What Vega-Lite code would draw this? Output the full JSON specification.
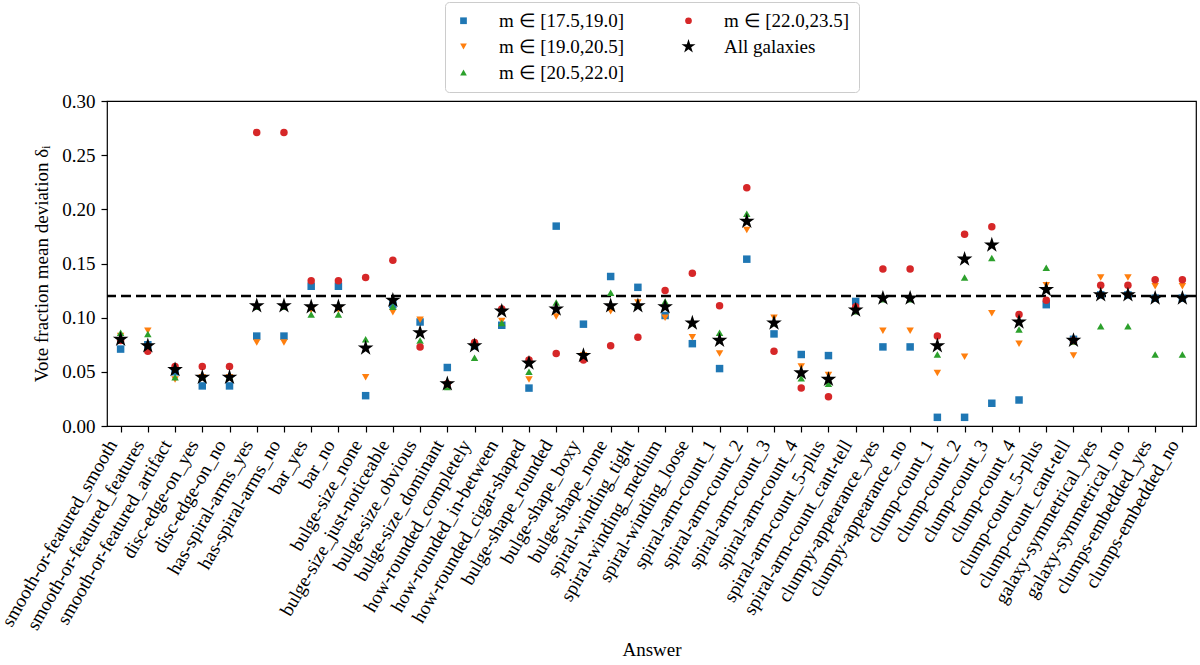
{
"$schema": "https://vega.github.io/schema/vega-lite/v6.json",
"width": 1089,
"height": 325,
"autosize": {"type": "none"},
"padding": {"left": 107, "top": 101, "right": 4, "bottom": 239},
"background": "white",
"config": {
  "font": "Liberation Serif",
  "view": {"stroke": "black", "strokeWidth": 1.2},
  "axis": {"labelFont": "Liberation Serif", "titleFont": "Liberation Serif", "labelFontSize": 19, "titleFontSize": 19, "labelColor": "black", "titleColor": "black", "titleFontWeight": "normal", "domain": false, "tickColor": "black", "tickSize": 6, "tickWidth": 1.2, "grid": false}
},
"datasets": {
"pts": [
{"answer":"smooth-or-featured_smooth","group":"m ∈ [17.5,19.0]","value":0.071},
{"answer":"smooth-or-featured_features","group":"m ∈ [17.5,19.0]","value":0.075},
{"answer":"smooth-or-featured_artifact","group":"m ∈ [17.5,19.0]","value":0.050},
{"answer":"disc-edge-on_yes","group":"m ∈ [17.5,19.0]","value":0.037},
{"answer":"disc-edge-on_no","group":"m ∈ [17.5,19.0]","value":0.037},
{"answer":"has-spiral-arms_yes","group":"m ∈ [17.5,19.0]","value":0.083},
{"answer":"has-spiral-arms_no","group":"m ∈ [17.5,19.0]","value":0.083},
{"answer":"bar_yes","group":"m ∈ [17.5,19.0]","value":0.129},
{"answer":"bar_no","group":"m ∈ [17.5,19.0]","value":0.129},
{"answer":"bulge-size_none","group":"m ∈ [17.5,19.0]","value":0.028},
{"answer":"bulge-size_just-noticeable","group":"m ∈ [17.5,19.0]","value":0.112},
{"answer":"bulge-size_obvious","group":"m ∈ [17.5,19.0]","value":0.096},
{"answer":"bulge-size_dominant","group":"m ∈ [17.5,19.0]","value":0.054},
{"answer":"how-rounded_completely","group":"m ∈ [17.5,19.0]","value":0.074},
{"answer":"how-rounded_in-between","group":"m ∈ [17.5,19.0]","value":0.093},
{"answer":"how-rounded_cigar-shaped","group":"m ∈ [17.5,19.0]","value":0.035},
{"answer":"bulge-shape_rounded","group":"m ∈ [17.5,19.0]","value":0.1845},
{"answer":"bulge-shape_boxy","group":"m ∈ [17.5,19.0]","value":0.094},
{"answer":"bulge-shape_none","group":"m ∈ [17.5,19.0]","value":0.138},
{"answer":"spiral-winding_tight","group":"m ∈ [17.5,19.0]","value":0.128},
{"answer":"spiral-winding_medium","group":"m ∈ [17.5,19.0]","value":0.102},
{"answer":"spiral-winding_loose","group":"m ∈ [17.5,19.0]","value":0.076},
{"answer":"spiral-arm-count_1","group":"m ∈ [17.5,19.0]","value":0.053},
{"answer":"spiral-arm-count_2","group":"m ∈ [17.5,19.0]","value":0.154},
{"answer":"spiral-arm-count_3","group":"m ∈ [17.5,19.0]","value":0.085},
{"answer":"spiral-arm-count_4","group":"m ∈ [17.5,19.0]","value":0.066},
{"answer":"spiral-arm-count_5-plus","group":"m ∈ [17.5,19.0]","value":0.065},
{"answer":"spiral-arm-count_cant-tell","group":"m ∈ [17.5,19.0]","value":0.115},
{"answer":"clumpy-appearance_yes","group":"m ∈ [17.5,19.0]","value":0.073},
{"answer":"clumpy-appearance_no","group":"m ∈ [17.5,19.0]","value":0.073},
{"answer":"clump-count_1","group":"m ∈ [17.5,19.0]","value":0.008},
{"answer":"clump-count_2","group":"m ∈ [17.5,19.0]","value":0.008},
{"answer":"clump-count_3","group":"m ∈ [17.5,19.0]","value":0.021},
{"answer":"clump-count_4","group":"m ∈ [17.5,19.0]","value":0.024},
{"answer":"clump-count_5-plus","group":"m ∈ [17.5,19.0]","value":0.112},
{"answer":"clump-count_cant-tell","group":"m ∈ [17.5,19.0]","value":0.080},
{"answer":"galaxy-symmetrical_yes","group":"m ∈ [17.5,19.0]","value":0.121},
{"answer":"galaxy-symmetrical_no","group":"m ∈ [17.5,19.0]","value":0.121},
{"answer":"clumps-embedded_yes","group":"m ∈ [17.5,19.0]","value":0.118},
{"answer":"clumps-embedded_no","group":"m ∈ [17.5,19.0]","value":0.118},

{"answer":"smooth-or-featured_smooth","group":"m ∈ [19.0,20.5]","value":0.083},
{"answer":"smooth-or-featured_features","group":"m ∈ [19.0,20.5]","value":0.088},
{"answer":"smooth-or-featured_artifact","group":"m ∈ [19.0,20.5]","value":0.043},
{"answer":"disc-edge-on_yes","group":"m ∈ [19.0,20.5]","value":0.045},
{"answer":"disc-edge-on_no","group":"m ∈ [19.0,20.5]","value":0.045},
{"answer":"has-spiral-arms_yes","group":"m ∈ [19.0,20.5]","value":0.077},
{"answer":"has-spiral-arms_no","group":"m ∈ [19.0,20.5]","value":0.077},
{"answer":"bar_yes","group":"m ∈ [19.0,20.5]","value":0.107},
{"answer":"bar_no","group":"m ∈ [19.0,20.5]","value":0.107},
{"answer":"bulge-size_none","group":"m ∈ [19.0,20.5]","value":0.045},
{"answer":"bulge-size_just-noticeable","group":"m ∈ [19.0,20.5]","value":0.105},
{"answer":"bulge-size_obvious","group":"m ∈ [19.0,20.5]","value":0.098},
{"answer":"bulge-size_dominant","group":"m ∈ [19.0,20.5]","value":0.038},
{"answer":"how-rounded_completely","group":"m ∈ [19.0,20.5]","value":0.074},
{"answer":"how-rounded_in-between","group":"m ∈ [19.0,20.5]","value":0.097},
{"answer":"how-rounded_cigar-shaped","group":"m ∈ [19.0,20.5]","value":0.043},
{"answer":"bulge-shape_rounded","group":"m ∈ [19.0,20.5]","value":0.101},
{"answer":"bulge-shape_boxy","group":"m ∈ [19.0,20.5]","value":0.065},
{"answer":"bulge-shape_none","group":"m ∈ [19.0,20.5]","value":0.106},
{"answer":"spiral-winding_tight","group":"m ∈ [19.0,20.5]","value":0.114},
{"answer":"spiral-winding_medium","group":"m ∈ [19.0,20.5]","value":0.100},
{"answer":"spiral-winding_loose","group":"m ∈ [19.0,20.5]","value":0.082},
{"answer":"spiral-arm-count_1","group":"m ∈ [19.0,20.5]","value":0.067},
{"answer":"spiral-arm-count_2","group":"m ∈ [19.0,20.5]","value":0.181},
{"answer":"spiral-arm-count_3","group":"m ∈ [19.0,20.5]","value":0.100},
{"answer":"spiral-arm-count_4","group":"m ∈ [19.0,20.5]","value":0.055},
{"answer":"spiral-arm-count_5-plus","group":"m ∈ [19.0,20.5]","value":0.047},
{"answer":"spiral-arm-count_cant-tell","group":"m ∈ [19.0,20.5]","value":0.106},
{"answer":"clumpy-appearance_yes","group":"m ∈ [19.0,20.5]","value":0.088},
{"answer":"clumpy-appearance_no","group":"m ∈ [19.0,20.5]","value":0.088},
{"answer":"clump-count_1","group":"m ∈ [19.0,20.5]","value":0.049},
{"answer":"clump-count_2","group":"m ∈ [19.0,20.5]","value":0.064},
{"answer":"clump-count_3","group":"m ∈ [19.0,20.5]","value":0.104},
{"answer":"clump-count_4","group":"m ∈ [19.0,20.5]","value":0.076},
{"answer":"clump-count_5-plus","group":"m ∈ [19.0,20.5]","value":0.130},
{"answer":"clump-count_cant-tell","group":"m ∈ [19.0,20.5]","value":0.065},
{"answer":"galaxy-symmetrical_yes","group":"m ∈ [19.0,20.5]","value":0.137},
{"answer":"galaxy-symmetrical_no","group":"m ∈ [19.0,20.5]","value":0.137},
{"answer":"clumps-embedded_yes","group":"m ∈ [19.0,20.5]","value":0.129},
{"answer":"clumps-embedded_no","group":"m ∈ [19.0,20.5]","value":0.129},

{"answer":"smooth-or-featured_smooth","group":"m ∈ [20.5,22.0]","value":0.086},
{"answer":"smooth-or-featured_features","group":"m ∈ [20.5,22.0]","value":0.085},
{"answer":"smooth-or-featured_artifact","group":"m ∈ [20.5,22.0]","value":0.045},
{"answer":"disc-edge-on_yes","group":"m ∈ [20.5,22.0]","value":0.046},
{"answer":"disc-edge-on_no","group":"m ∈ [20.5,22.0]","value":0.046},
{"answer":"has-spiral-arms_yes","group":"m ∈ [20.5,22.0]","value":0.110},
{"answer":"has-spiral-arms_no","group":"m ∈ [20.5,22.0]","value":0.110},
{"answer":"bar_yes","group":"m ∈ [20.5,22.0]","value":0.103},
{"answer":"bar_no","group":"m ∈ [20.5,22.0]","value":0.103},
{"answer":"bulge-size_none","group":"m ∈ [20.5,22.0]","value":0.080},
{"answer":"bulge-size_just-noticeable","group":"m ∈ [20.5,22.0]","value":0.110},
{"answer":"bulge-size_obvious","group":"m ∈ [20.5,22.0]","value":0.079},
{"answer":"bulge-size_dominant","group":"m ∈ [20.5,22.0]","value":0.036},
{"answer":"how-rounded_completely","group":"m ∈ [20.5,22.0]","value":0.063},
{"answer":"how-rounded_in-between","group":"m ∈ [20.5,22.0]","value":0.095},
{"answer":"how-rounded_cigar-shaped","group":"m ∈ [20.5,22.0]","value":0.050},
{"answer":"bulge-shape_rounded","group":"m ∈ [20.5,22.0]","value":0.114},
{"answer":"bulge-shape_boxy","group":"m ∈ [20.5,22.0]","value":0.065},
{"answer":"bulge-shape_none","group":"m ∈ [20.5,22.0]","value":0.123},
{"answer":"spiral-winding_tight","group":"m ∈ [20.5,22.0]","value":0.112},
{"answer":"spiral-winding_medium","group":"m ∈ [20.5,22.0]","value":0.115},
{"answer":"spiral-winding_loose","group":"m ∈ [20.5,22.0]","value":0.095},
{"answer":"spiral-arm-count_1","group":"m ∈ [20.5,22.0]","value":0.086},
{"answer":"spiral-arm-count_2","group":"m ∈ [20.5,22.0]","value":0.196},
{"answer":"spiral-arm-count_3","group":"m ∈ [20.5,22.0]","value":0.095},
{"answer":"spiral-arm-count_4","group":"m ∈ [20.5,22.0]","value":0.044},
{"answer":"spiral-arm-count_5-plus","group":"m ∈ [20.5,22.0]","value":0.039},
{"answer":"spiral-arm-count_cant-tell","group":"m ∈ [20.5,22.0]","value":0.106},
{"answer":"clumpy-appearance_yes","group":"m ∈ [20.5,22.0]","value":0.117},
{"answer":"clumpy-appearance_no","group":"m ∈ [20.5,22.0]","value":0.117},
{"answer":"clump-count_1","group":"m ∈ [20.5,22.0]","value":0.066},
{"answer":"clump-count_2","group":"m ∈ [20.5,22.0]","value":0.137},
{"answer":"clump-count_3","group":"m ∈ [20.5,22.0]","value":0.155},
{"answer":"clump-count_4","group":"m ∈ [20.5,22.0]","value":0.089},
{"answer":"clump-count_5-plus","group":"m ∈ [20.5,22.0]","value":0.146},
{"answer":"clump-count_cant-tell","group":"m ∈ [20.5,22.0]","value":0.078},
{"answer":"galaxy-symmetrical_yes","group":"m ∈ [20.5,22.0]","value":0.092},
{"answer":"galaxy-symmetrical_no","group":"m ∈ [20.5,22.0]","value":0.092},
{"answer":"clumps-embedded_yes","group":"m ∈ [20.5,22.0]","value":0.066},
{"answer":"clumps-embedded_no","group":"m ∈ [20.5,22.0]","value":0.066},

{"answer":"smooth-or-featured_smooth","group":"m ∈ [22.0,23.5]","value":0.079},
{"answer":"smooth-or-featured_features","group":"m ∈ [22.0,23.5]","value":0.069},
{"answer":"smooth-or-featured_artifact","group":"m ∈ [22.0,23.5]","value":0.055},
{"answer":"disc-edge-on_yes","group":"m ∈ [22.0,23.5]","value":0.055},
{"answer":"disc-edge-on_no","group":"m ∈ [22.0,23.5]","value":0.055},
{"answer":"has-spiral-arms_yes","group":"m ∈ [22.0,23.5]","value":0.271},
{"answer":"has-spiral-arms_no","group":"m ∈ [22.0,23.5]","value":0.271},
{"answer":"bar_yes","group":"m ∈ [22.0,23.5]","value":0.134},
{"answer":"bar_no","group":"m ∈ [22.0,23.5]","value":0.134},
{"answer":"bulge-size_none","group":"m ∈ [22.0,23.5]","value":0.137},
{"answer":"bulge-size_just-noticeable","group":"m ∈ [22.0,23.5]","value":0.153},
{"answer":"bulge-size_obvious","group":"m ∈ [22.0,23.5]","value":0.073},
{"answer":"bulge-size_dominant","group":"m ∈ [22.0,23.5]","value":0.039},
{"answer":"how-rounded_completely","group":"m ∈ [22.0,23.5]","value":0.077},
{"answer":"how-rounded_in-between","group":"m ∈ [22.0,23.5]","value":0.108},
{"answer":"how-rounded_cigar-shaped","group":"m ∈ [22.0,23.5]","value":0.061},
{"answer":"bulge-shape_rounded","group":"m ∈ [22.0,23.5]","value":0.067},
{"answer":"bulge-shape_boxy","group":"m ∈ [22.0,23.5]","value":0.061},
{"answer":"bulge-shape_none","group":"m ∈ [22.0,23.5]","value":0.074},
{"answer":"spiral-winding_tight","group":"m ∈ [22.0,23.5]","value":0.082},
{"answer":"spiral-winding_medium","group":"m ∈ [22.0,23.5]","value":0.125},
{"answer":"spiral-winding_loose","group":"m ∈ [22.0,23.5]","value":0.141},
{"answer":"spiral-arm-count_1","group":"m ∈ [22.0,23.5]","value":0.111},
{"answer":"spiral-arm-count_2","group":"m ∈ [22.0,23.5]","value":0.220},
{"answer":"spiral-arm-count_3","group":"m ∈ [22.0,23.5]","value":0.069},
{"answer":"spiral-arm-count_4","group":"m ∈ [22.0,23.5]","value":0.035},
{"answer":"spiral-arm-count_5-plus","group":"m ∈ [22.0,23.5]","value":0.027},
{"answer":"spiral-arm-count_cant-tell","group":"m ∈ [22.0,23.5]","value":0.110},
{"answer":"clumpy-appearance_yes","group":"m ∈ [22.0,23.5]","value":0.145},
{"answer":"clumpy-appearance_no","group":"m ∈ [22.0,23.5]","value":0.145},
{"answer":"clump-count_1","group":"m ∈ [22.0,23.5]","value":0.083},
{"answer":"clump-count_2","group":"m ∈ [22.0,23.5]","value":0.177},
{"answer":"clump-count_3","group":"m ∈ [22.0,23.5]","value":0.184},
{"answer":"clump-count_4","group":"m ∈ [22.0,23.5]","value":0.103},
{"answer":"clump-count_5-plus","group":"m ∈ [22.0,23.5]","value":0.116},
{"answer":"clump-count_cant-tell","group":"m ∈ [22.0,23.5]","value":0.079},
{"answer":"galaxy-symmetrical_yes","group":"m ∈ [22.0,23.5]","value":0.130},
{"answer":"galaxy-symmetrical_no","group":"m ∈ [22.0,23.5]","value":0.130},
{"answer":"clumps-embedded_yes","group":"m ∈ [22.0,23.5]","value":0.135},
{"answer":"clumps-embedded_no","group":"m ∈ [22.0,23.5]","value":0.135},

{"answer":"smooth-or-featured_smooth","group":"All galaxies","value":0.080},
{"answer":"smooth-or-featured_features","group":"All galaxies","value":0.074},
{"answer":"smooth-or-featured_artifact","group":"All galaxies","value":0.052},
{"answer":"disc-edge-on_yes","group":"All galaxies","value":0.045},
{"answer":"disc-edge-on_no","group":"All galaxies","value":0.045},
{"answer":"has-spiral-arms_yes","group":"All galaxies","value":0.111},
{"answer":"has-spiral-arms_no","group":"All galaxies","value":0.111},
{"answer":"bar_yes","group":"All galaxies","value":0.110},
{"answer":"bar_no","group":"All galaxies","value":0.110},
{"answer":"bulge-size_none","group":"All galaxies","value":0.072},
{"answer":"bulge-size_just-noticeable","group":"All galaxies","value":0.116},
{"answer":"bulge-size_obvious","group":"All galaxies","value":0.086},
{"answer":"bulge-size_dominant","group":"All galaxies","value":0.039},
{"answer":"how-rounded_completely","group":"All galaxies","value":0.074},
{"answer":"how-rounded_in-between","group":"All galaxies","value":0.106},
{"answer":"how-rounded_cigar-shaped","group":"All galaxies","value":0.058},
{"answer":"bulge-shape_rounded","group":"All galaxies","value":0.108},
{"answer":"bulge-shape_boxy","group":"All galaxies","value":0.065},
{"answer":"bulge-shape_none","group":"All galaxies","value":0.111},
{"answer":"spiral-winding_tight","group":"All galaxies","value":0.111},
{"answer":"spiral-winding_medium","group":"All galaxies","value":0.110},
{"answer":"spiral-winding_loose","group":"All galaxies","value":0.095},
{"answer":"spiral-arm-count_1","group":"All galaxies","value":0.079},
{"answer":"spiral-arm-count_2","group":"All galaxies","value":0.189},
{"answer":"spiral-arm-count_3","group":"All galaxies","value":0.095},
{"answer":"spiral-arm-count_4","group":"All galaxies","value":0.049},
{"answer":"spiral-arm-count_5-plus","group":"All galaxies","value":0.043},
{"answer":"spiral-arm-count_cant-tell","group":"All galaxies","value":0.107},
{"answer":"clumpy-appearance_yes","group":"All galaxies","value":0.118},
{"answer":"clumpy-appearance_no","group":"All galaxies","value":0.118},
{"answer":"clump-count_1","group":"All galaxies","value":0.074},
{"answer":"clump-count_2","group":"All galaxies","value":0.154},
{"answer":"clump-count_3","group":"All galaxies","value":0.167},
{"answer":"clump-count_4","group":"All galaxies","value":0.096},
{"answer":"clump-count_5-plus","group":"All galaxies","value":0.126},
{"answer":"clump-count_cant-tell","group":"All galaxies","value":0.079},
{"answer":"galaxy-symmetrical_yes","group":"All galaxies","value":0.121},
{"answer":"galaxy-symmetrical_no","group":"All galaxies","value":0.121},
{"answer":"clumps-embedded_yes","group":"All galaxies","value":0.118},
{"answer":"clumps-embedded_no","group":"All galaxies","value":0.118}
],
"ref": [{"label": "reference", "level": 0.12}]
},
"layer": [
  {
    "data": {"name": "ref"},
    "mark": {"type": "rule", "color": "black", "strokeWidth": 2.5, "strokeDash": [10, 5]},
    "encoding": {"y": {"field": "level", "type": "quantitative"}}
  },
  {
    "data": {"name": "pts"},
    "mark": {"type": "point", "filled": true, "opacity": 1, "size": 56, "strokeWidth": 0},
    "encoding": {
      "x": {"field": "answer", "type": "nominal", "sort": null,
            "scale": {"type": "point", "padding": 0.5},
            "axis": {"title": "Answer", "labelAngle": -60, "labelAlign": "right", "labelBaseline": "bottom", "labelPadding": 14, "titlePadding": 14, "labelLimit": 400}},
      "y": {"field": "value", "type": "quantitative",
            "scale": {"domain": [0, 0.3], "nice": false, "zero": false},
            "axis": {"title": "Vote fraction mean deviation δᵢ", "values": [0, 0.05, 0.1, 0.15, 0.2, 0.25, 0.3], "format": ".2f", "labelPadding": 6, "titlePadding": 10}},
      "color": {"field": "group", "type": "nominal",
            "scale": {"domain": ["m ∈ [17.5,19.0]", "m ∈ [19.0,20.5]", "m ∈ [20.5,22.0]", "m ∈ [22.0,23.5]", "All galaxies"],
                      "range": ["#1f77b4", "#ff7f0e", "#2ca02c", "#d62728", "#000000"]},
            "legend": {"title": null, "orient": "none", "legendX": 338, "legendY": -99, "columns": 2, "columnPadding": 54, "rowPadding": 6, "padding": 9, "fillColor": "white", "strokeColor": "#cccccc", "cornerRadius": 4, "labelFontSize": 19, "labelFont": "Liberation Serif", "labelColor": "black", "labelOffset": 26, "symbolSize": 45, "symbolStrokeWidth": 0, "labelLimit": 300}},
      "shape": {"field": "group", "type": "nominal",
            "scale": {"domain": ["m ∈ [17.5,19.0]", "m ∈ [19.0,20.5]", "m ∈ [20.5,22.0]", "m ∈ [22.0,23.5]", "All galaxies"],
                      "range": ["square", "triangle-down", "triangle-up", "circle", "M0,-2.2L0.494,-0.68L2.092,-0.68L0.799,0.26L1.293,1.78L0,0.84L-1.293,1.78L-0.799,0.26L-2.092,-0.68L-0.494,-0.68Z"]},
            "legend": {"title": null, "orient": "none", "legendX": 338, "legendY": -99, "columns": 2, "columnPadding": 54, "rowPadding": 6, "padding": 9, "fillColor": "white", "strokeColor": "#cccccc", "cornerRadius": 4, "labelFontSize": 19, "labelFont": "Liberation Serif", "labelColor": "black", "labelOffset": 26, "symbolSize": 45, "symbolStrokeWidth": 0, "labelLimit": 300}}
    }
  }
]
}
